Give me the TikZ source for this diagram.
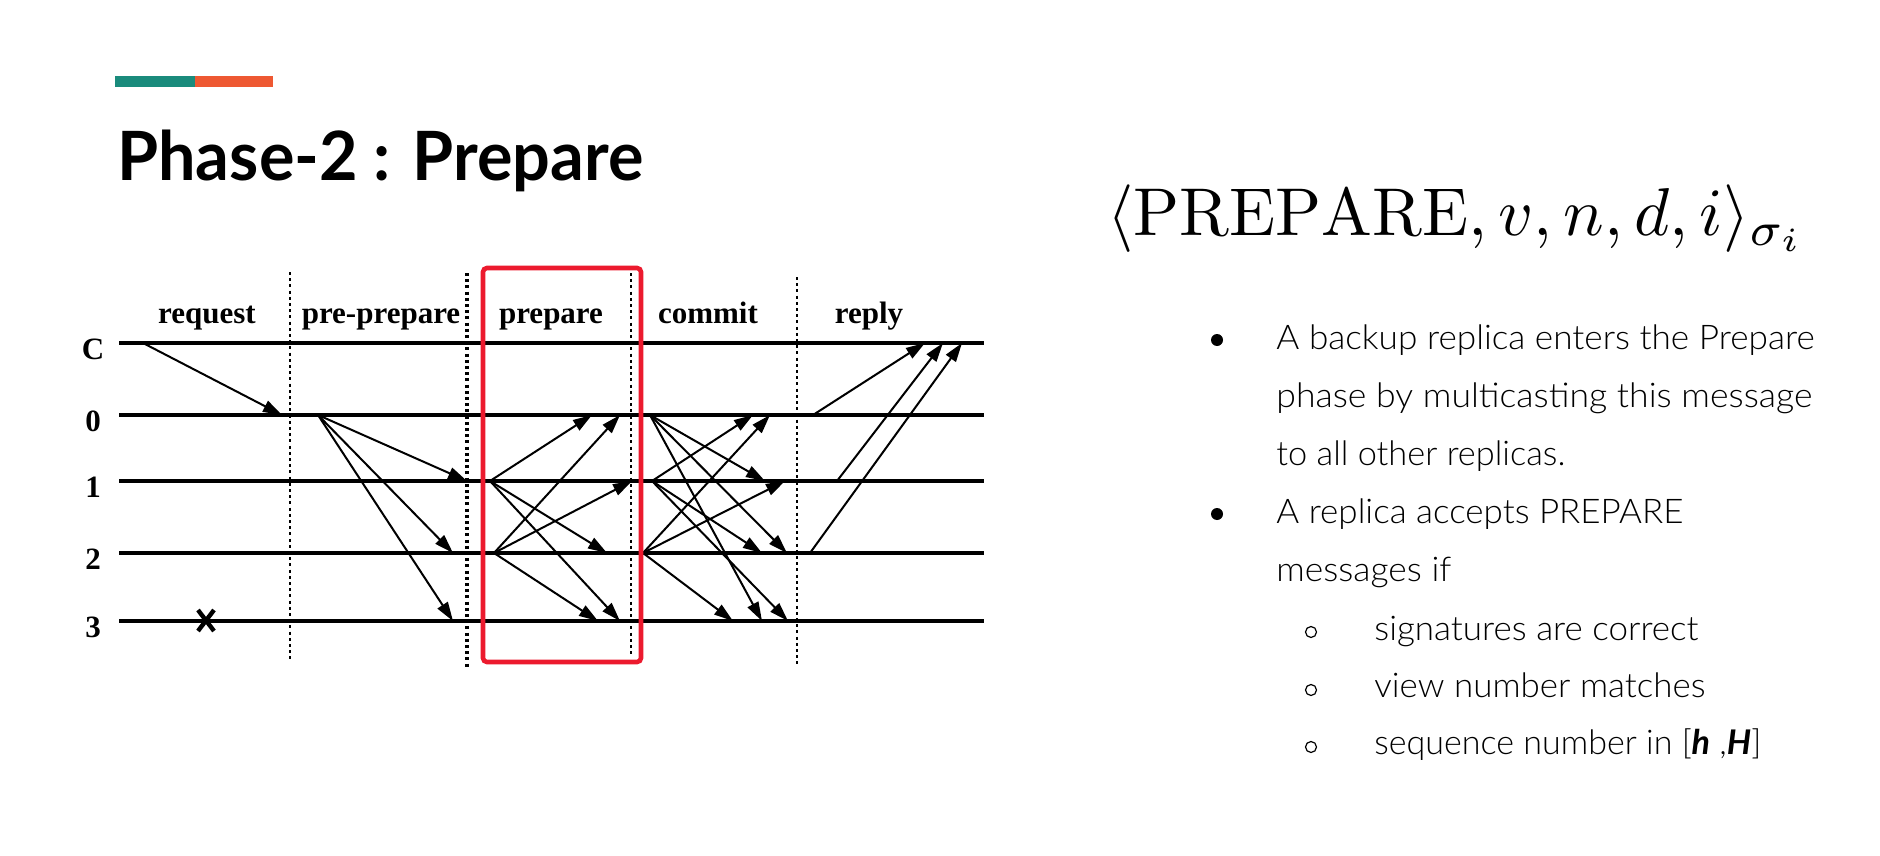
\documentclass[tikz,border=0pt]{standalone}
\usepackage{fontspec}
\usetikzlibrary{arrows.meta}
\newfontfamily\latofont{Lato}
\newfontfamily\bodyfont{Lato Light}
\newfontfamily\timesfont{Liberation Serif}
\definecolor{barTeal}{RGB}{26,139,124}
\definecolor{barOrange}{RGB}{238,88,50}
\definecolor{boxRed}{RGB}{236,26,46}
\newcommand{\fitw}[2]{\resizebox{#1pt}{\height}{#2}}
\begin{document}
\begin{tikzpicture}[x=0.5pt,y=-0.5pt,
  rline/.style={line width=1.7pt},
  msg/.style={line width=1pt,-{Triangle[length=9.5pt,width=6pt]}},
  phaseline/.style={line width=1pt,dash pattern=on 1.5pt off 1.6pt},
  lbl/.style={anchor=base,inner sep=0,font=\timesfont\bfseries\fontsize{15.5}{18}\selectfont},
  body/.style={anchor=base west,inner sep=0,font=\bodyfont\fontsize{17}{20}\selectfont}]
\useasboundingbox[fill=white] (0,0) rectangle (1880,856);
% header bar
\fill[barTeal] (115,76) rectangle (195,87);
\fill[barOrange] (195,76) rectangle (273,87);
\node[anchor=base west,inner sep=0,font=\latofont\bfseries\fontsize{34}{40}\selectfont] (title) at (117,181) {\fitw{263}{Phase-2 : Prepare}};
% phase labels
\node[lbl] (pRequest) at (207,323) {request};
\node[lbl] (pPre) at (381,323) {pre-prepare};
\node[lbl] (pPrep) at (551,323) {prepare};
\node[lbl] (pCommit) at (708,323) {commit};
\node[lbl] (pReply) at (869,323) {reply};
% replica labels and lines
\foreach \r/\y in {C/343,0/415,1/481,2/553,3/621}{
  \node[lbl] (lab\r) at (93,\y+16) {\r};
  \coordinate (s\r) at (119,\y);
  \coordinate (e\r) at (984,\y);
  \draw[rline] (s\r) -- (e\r);
}
% phase separators
\coordinate (d1a) at (290,272); \coordinate (d1b) at (290,660);
\coordinate (d2a) at (467,273); \coordinate (d2b) at (467,667);
\coordinate (d3a) at (631,273); \coordinate (d3b) at (631,657);
\coordinate (d4a) at (797,277); \coordinate (d4b) at (797,667);
\draw[phaseline] (d1a) -- (d1b);
\draw[phaseline,line width=1.6pt] (d2a) -- (d2b);
\draw[phaseline] (d3a) -- (d3b);
\draw[phaseline] (d4a) -- (d4b);
% messages
\foreach \n/\sx/\sy/\ex/\ey in {
  rq/143/343/282/415,
  pp1/318/415/467/481, pp2/318/415/453/553, pp3/318/415/453/621,
  p10/490/481/592/415, p12/490/481/607/553, p13/490/481/620/621,
  p20/494/553/620/415, p21/494/553/632/481, p23/494/553/598/621,
  c01/650/415/765/481, c02/650/415/787/553, c03/650/415/762/621,
  c10/652/481/753/415, c12/652/481/762/553, c13/652/481/788/621,
  c20/643/553/770/415, c21/643/553/785/481, c23/643/553/733/621,
  r0/813/415/925/343, r1/837/481/943/343, r2/810/553/962/343}{
  \coordinate (\n-a) at (\sx,\sy);
  \coordinate (\n-b) at (\ex,\ey);
  \draw[msg] (\n-a) -- (\n-b);
}
% crashed replica
\coordinate (xa) at (198,610); \coordinate (xb) at (214,631);
\coordinate (xc) at (198,631); \coordinate (xd) at (214,610);
\draw[line width=2.2pt] (xa) -- (xb) (xc) -- (xd);
% highlight box
\draw[boxRed,line width=2.3pt,rounded corners=2pt] (483,268) rectangle (641,662);
% message format
\node[anchor=base west,inner sep=0] (fmt) at (1107,235)
  {\resizebox{349pt}{!}{\fontsize{10}{12}\selectfont$\langle\mathrm{PREPARE}, v, n, d, i\rangle_{\sigma_i}$}};
% bullets
\fill (1217,340) circle (6);
\fill (1217,514) circle (6);
\node[body] (t1) at (1276,349) {\fitw{269}{A backup replica enters the Prepare}};
\node[body] (t2) at (1276,407) {\fitw{268}{phase by multicasting this message}};
\node[body] (t3) at (1276,465) {\fitw{144.5}{to all other replicas.}};
\node[body] (t4) at (1276,523) {\fitw{203.5}{A replica accepts PREPARE}};
\node[body] (t5) at (1276,581) {\fitw{87.5}{messages if}};
\draw[line width=0.6pt] (1311,632) circle (5.5);
\draw[line width=0.6pt] (1311,690) circle (5.5);
\draw[line width=0.6pt] (1311,747) circle (5.5);
\node[body] (s1) at (1374,640) {\fitw{162}{signatures are correct}};
\node[body] (s2) at (1374,697) {\fitw{165.5}{view number matches}};
\node[body] (s3) at (1374,754) {\fitw{193.5}{sequence number in [{\latofont\bfseries\itshape h} ,{\latofont\bfseries\itshape H}]}};
\end{tikzpicture}
\end{document}
